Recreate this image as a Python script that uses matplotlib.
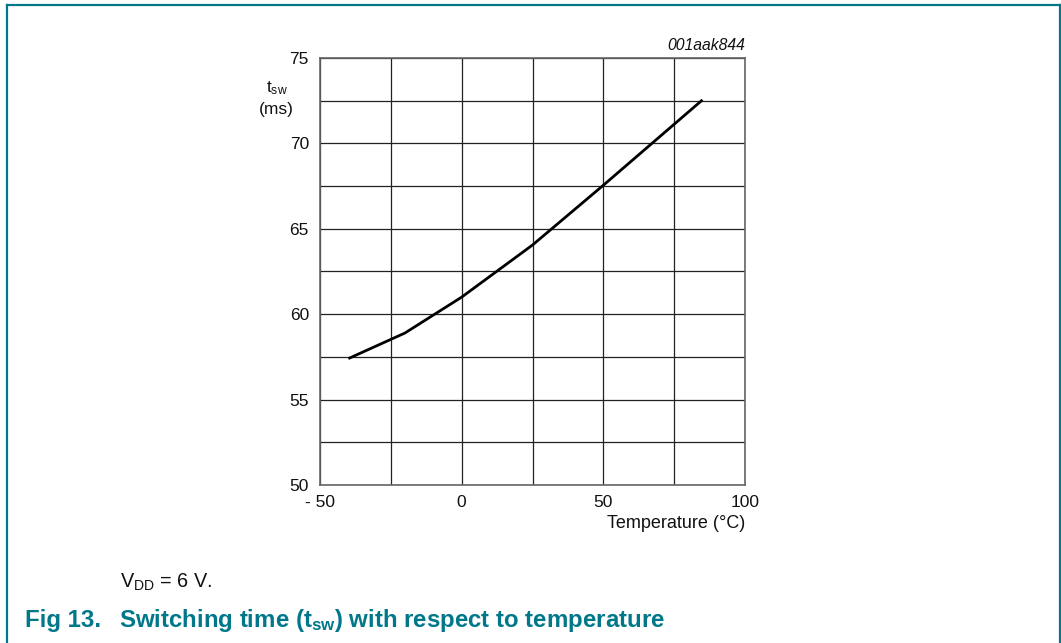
import matplotlib
matplotlib.use("Agg")
import matplotlib.pyplot as plt
from matplotlib.lines import Line2D

plt.rcParams['font.family'] = ['Liberation Sans', 'DejaVu Sans']
plt.rcParams['mathtext.fontset'] = 'custom'
plt.rcParams['mathtext.rm'] = 'Liberation Sans'
plt.rcParams['mathtext.it'] = 'Liberation Sans:italic'
plt.rcParams['mathtext.bf'] = 'Liberation Sans:bold'

# Data
temperature = [-40, -20, 0, 25, 50, 85]
t_sw = [57.4, 58.9, 61.0, 64.05, 67.55, 72.55]
x_ticks = [-50, 0, 50, 100]
x_tick_labels = ['- 50', '0', '50', '100']
y_ticks = [50, 55, 60, 65, 70, 75]

W, H = 1061, 643
fig = plt.figure(figsize=(W / 100, H / 100), dpi=100)
teal = '#00788A'

# border frame (open at bottom)
fig.add_artist(Line2D([6.5 / W, 6.5 / W], [0, 1 - 4.5 / H], color=teal, lw=1.6, transform=fig.transFigure))
fig.add_artist(Line2D([6.5 / W, 1060 / W], [1 - 4.5 / H, 1 - 4.5 / H], color=teal, lw=1.6, transform=fig.transFigure))
fig.add_artist(Line2D([1059.5 / W, 1059.5 / W], [0, 1 - 4.5 / H], color=teal, lw=1.6, transform=fig.transFigure))

ax = fig.add_axes([320 / W, 1 - 485 / H, 425 / W, 427 / H])
ax.set_xlim(-50, 100)
ax.set_ylim(50, 75)
ax.set_xticks(x_ticks)
ax.set_xticklabels(x_tick_labels)
ax.set_xticks([-25, 25, 75], minor=True)
ax.set_yticks(y_ticks)
ax.set_yticks([52.5, 57.5, 62.5, 67.5, 72.5], minor=True)
ax.grid(True, which='both', color='#222222', lw=0.9)
ax.set_axisbelow(True)
ax.tick_params(which='both', length=0, labelsize=12.5, colors='#111111')
ax.tick_params(axis='y', pad=8)
ax.tick_params(axis='x', pad=7)
for s in ax.spines.values():
    s.set_color('#666666')
    s.set_linewidth(1.2)

ax.plot(temperature, t_sw, color='black', lw=2.0, solid_capstyle='butt')

fig.text(745 / W, 1 - 46 / H, '001aak844', ha='right', va='center', fontsize=11.3, style='italic', color='#111111')
fig.text(277 / W, 1 - 92.5 / H, r't$_{\mathrm{sw}}$', ha='center', va='baseline', fontsize=12.5, color='#111111')
fig.text(276 / W, 1 - 114 / H, '(ms)', ha='center', va='baseline', fontsize=12.5, color='#111111')
fig.text(745 / W, 1 - 523 / H, 'Temperature (°C)', ha='right', va='center', fontsize=13, color='#111111')

fig.text(120 / W, 1 - 588 / H, r'V$_{\mathrm{DD}}$ = 6 V.', ha='left', va='baseline', fontsize=14.3, color='#111111')
fig.text(25 / W, 1 - 627 / H, 'Fig 13.', ha='left', va='baseline', fontsize=17.3, fontweight='bold', color=teal)
fig.text(119 / W, 1 - 627 / H, r'Switching time (t$_{\mathbf{sw}}$) with respect to temperature', ha='left', va='baseline',
         fontsize=17.3, fontweight='bold', color=teal)

fig.savefig('out.png', dpi=100)
